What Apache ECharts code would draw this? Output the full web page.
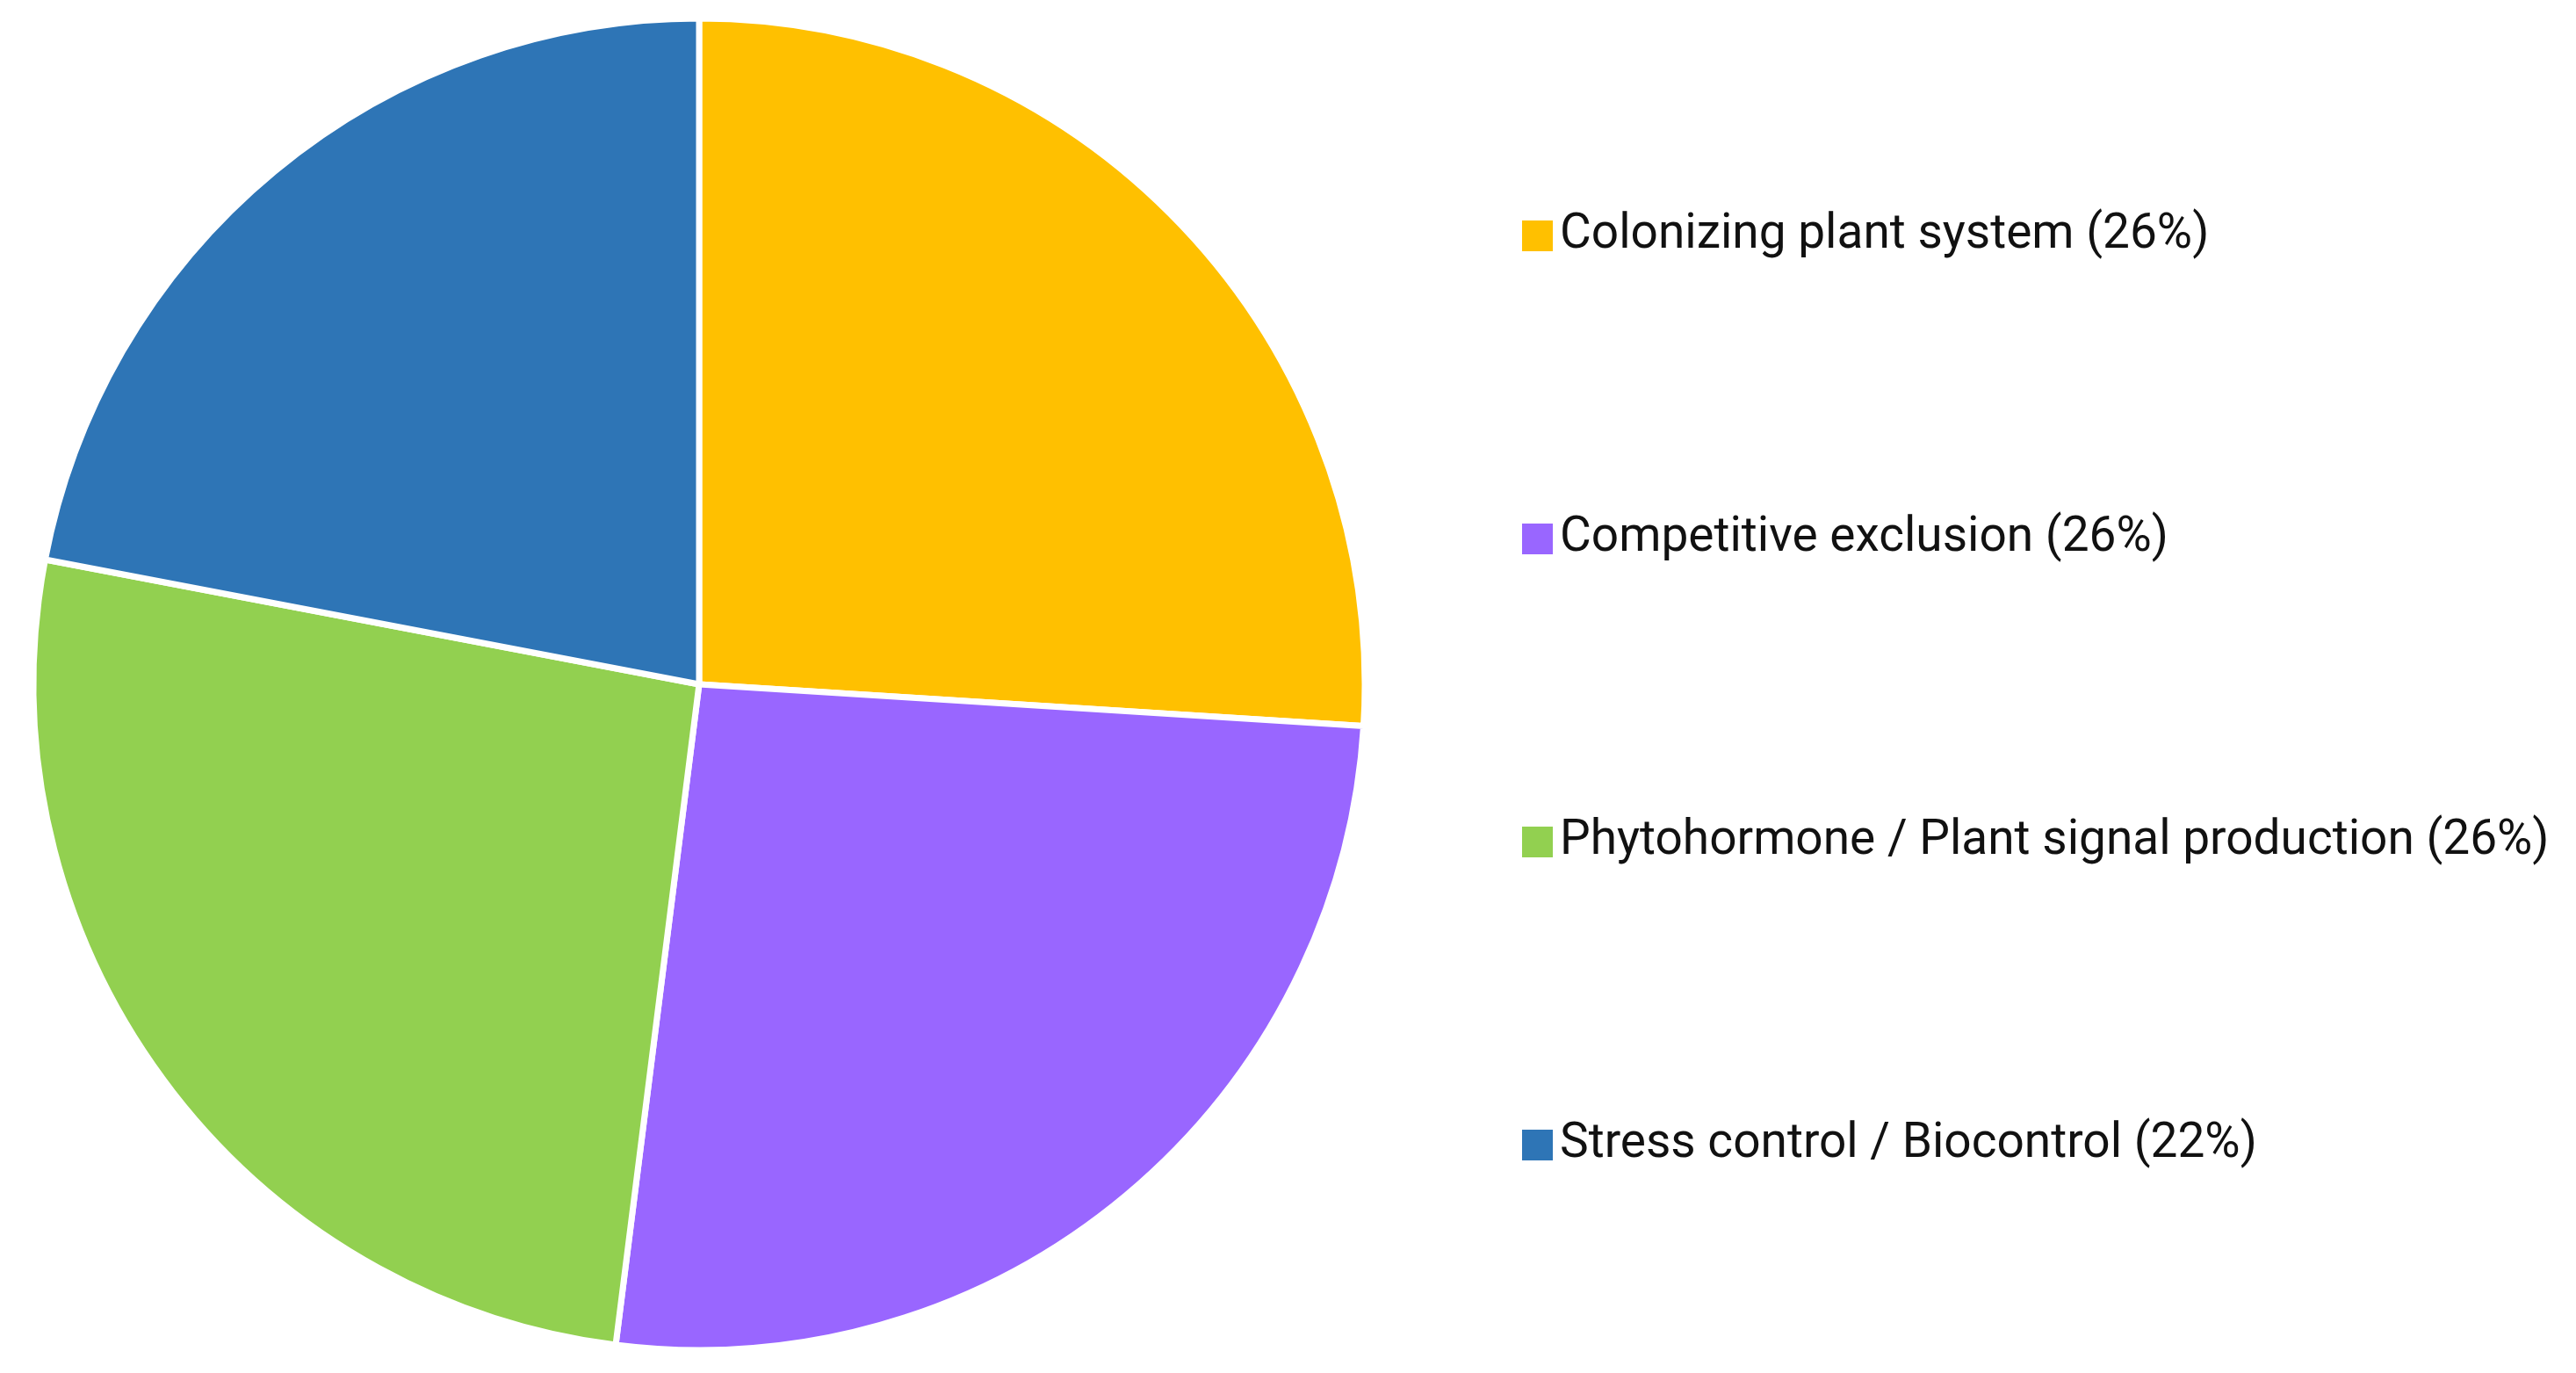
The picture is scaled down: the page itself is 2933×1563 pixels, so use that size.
<!DOCTYPE html>
<html lang="en">
	<head>
		<meta charset="utf-8">
		<title>Pie chart</title>
		<script src="https://cdn.jsdelivr.net/npm/echarts@6/dist/echarts.min.js"></script>
		<style>
			html, body { margin: 0; padding: 0; background: #fff; }
			#chart-pie { width: 2933px; height: 1563px; }
		</style>
	</head>
	<body>
		<div id="chart-pie"></div>
		<script type="text/javascript">
			// categories and values (percent)
			var categories = ['Colonizing plant system', 'Competitive exclusion', 'Phytohormone / Plant signal production', 'Stress control / Biocontrol'];
			var values = [26, 26, 26, 22];
			var colors = ['#FFC000', '#9966FF', '#92D050', '#2E75B6'];

			var pieChart = echarts.init(document.getElementById('chart-pie'));

			var pieData = categories.map(function (name, i) {
				return { name: name, value: values[i], itemStyle: { color: colors[i] } };
			});

			var option = {
				animation: false,
				//图例
				legend: {
					orient: 'vertical',
					left: 1726,
					top: 236,
					itemWidth: 37,
					itemHeight: 37,
					itemGap: 290,
					icon: 'rect',
					data: categories,
					formatter: function (name) {
						var i = categories.indexOf(name);
						return name + ' (' + values[i] + '%)';
					},
					textStyle: {
						fontFamily: 'Roboto',
						fontSize: 55,
						color: '#111',
						padding: [0, 0, 0, 2]
					}
				},
				series: [
					{
						type: 'pie',
						center: [796, 779],
						radius: 758,
						startAngle: 90,
						clockwise: true,
						label: { show: false },
						labelLine: { show: false },
						itemStyle: { borderColor: '#fff', borderWidth: 7 },
						emphasis: { disabled: true },
						data: pieData
					}
				]
			};
			pieChart.setOption(option);
		</script>
	</body>
</html>
